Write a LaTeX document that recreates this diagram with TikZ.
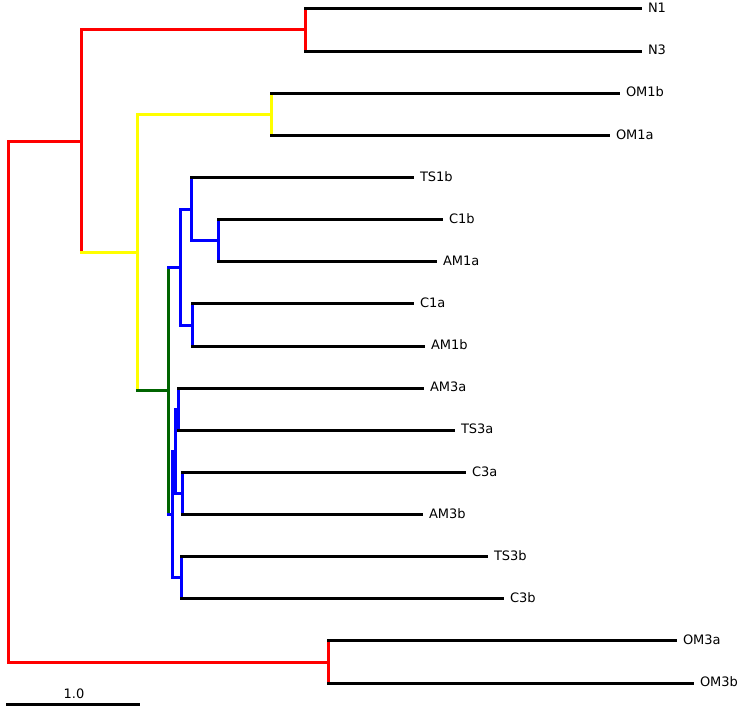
\documentclass[tikz,border=0pt]{standalone}
\usepackage{fontspec}
\setmainfont{DejaVu Sans}
\definecolor{tred}{RGB}{255,0,0}
\definecolor{tyel}{RGB}{255,255,0}
\definecolor{tblu}{RGB}{0,0,255}
\definecolor{tgrn}{RGB}{0,100,0}
\newcommand\brn[4]{\draw[#1] (#3) -- (#3 |- #4); \draw[#2] (#3 |- #4) -- (#4);}
\begin{document}
\begin{tikzpicture}[x=1pt,y=-1pt,
  every path/.style={line width=3pt,line cap=rect},
  leaf/.style={anchor=west,inner xsep=8pt,inner ysep=0pt,outer sep=0pt,
    text height=0.73em,text depth=0pt,font=\fontsize{13}{15}\selectfont},
  scalelab/.style={inner sep=0pt,text height=0.73em,text depth=0pt,font=\fontsize{13}{15}\selectfont}]
\useasboundingbox (0,0) rectangle (743,711);
% internal nodes
\coordinate (R0)  at (8,401.6);
\coordinate (A)   at (81,141.2);
\coordinate (NN)  at (305,30);
\coordinate (OM3) at (328,662);
\coordinate (Y)   at (137,252.4);
\coordinate (OM1) at (271,114.3);
\coordinate (G)   at (168,390.8);
\coordinate (B1)  at (180,267.2);
\coordinate (B2)  at (191,209.5);
\coordinate (B4)  at (218,240.7);
\coordinate (B3)  at (192,325);
\coordinate (P)   at (172,514.3);
\coordinate (Q)   at (175,451.3);
\coordinate (R)   at (178,409.2);
\coordinate (S)   at (182,493.5);
\coordinate (T)   at (181,577.7);
% leaves
\node[leaf] (N1)   at (640,9)     {N1};
\node[leaf] (N3)   at (640,51.1)  {N3};
\node[leaf] (OM1b) at (618,93.3)  {OM1b};
\node[leaf] (OM1a) at (608,135.4) {OM1a};
\node[leaf] (TS1b) at (412,177.5) {TS1b};
\node[leaf] (C1b)  at (441,219.6) {C1b};
\node[leaf] (AM1a) at (435,261.8) {AM1a};
\node[leaf] (C1a)  at (412,303.9) {C1a};
\node[leaf] (AM1b) at (423,346)   {AM1b};
\node[leaf] (AM3a) at (422,388.1) {AM3a};
\node[leaf] (TS3a) at (453,430.3) {TS3a};
\node[leaf] (C3a)  at (464,472.4) {C3a};
\node[leaf] (AM3b) at (421,514.5) {AM3b};
\node[leaf] (TS3b) at (486,556.6) {TS3b};
\node[leaf] (C3b)  at (502,598.8) {C3b};
\node[leaf] (OM3a) at (675,640.9) {OM3a};
\node[leaf] (OM3b) at (692,683)   {OM3b};
% branches: vertical in parent colour, horizontal in child colour
\brn{tred}{tred}{R0}{A}
\brn{tred}{tred}{R0}{OM3}
\brn{tred}{tred}{A}{NN}
\brn{tred}{tyel}{A}{Y}
\brn{tred}{black}{NN}{N1.west}
\brn{tred}{black}{NN}{N3.west}
\brn{tred}{black}{OM3}{OM3a.west}
\brn{tred}{black}{OM3}{OM3b.west}
\brn{tyel}{tyel}{Y}{OM1}
\brn{tyel}{tgrn}{Y}{G}
\brn{tyel}{black}{OM1}{OM1b.west}
\brn{tyel}{black}{OM1}{OM1a.west}
\brn{tgrn}{tblu}{G}{B1}
\brn{tgrn}{tblu}{G}{P}
\brn{tblu}{tblu}{B1}{B2}
\brn{tblu}{tblu}{B1}{B3}
\brn{tblu}{black}{B2}{TS1b.west}
\brn{tblu}{tblu}{B2}{B4}
\brn{tblu}{black}{B4}{C1b.west}
\brn{tblu}{black}{B4}{AM1a.west}
\brn{tblu}{black}{B3}{C1a.west}
\brn{tblu}{black}{B3}{AM1b.west}
\brn{tblu}{tblu}{P}{Q}
\brn{tblu}{tblu}{P}{T}
\brn{tblu}{tblu}{Q}{R}
\brn{tblu}{tblu}{Q}{S}
\brn{tblu}{black}{R}{AM3a.west}
\brn{tblu}{black}{R}{TS3a.west}
\brn{tblu}{black}{S}{C3a.west}
\brn{tblu}{black}{S}{AM3b.west}
\brn{tblu}{black}{T}{TS3b.west}
\brn{tblu}{black}{T}{C3b.west}
% scale bar
\coordinate (sb1) at (7,704);
\coordinate (sb2) at (138,704);
\draw[black] (sb1) -- (sb2);
\node[scalelab] (sbl) at (74,694.5) {1.0};
\end{tikzpicture}
\end{document}
